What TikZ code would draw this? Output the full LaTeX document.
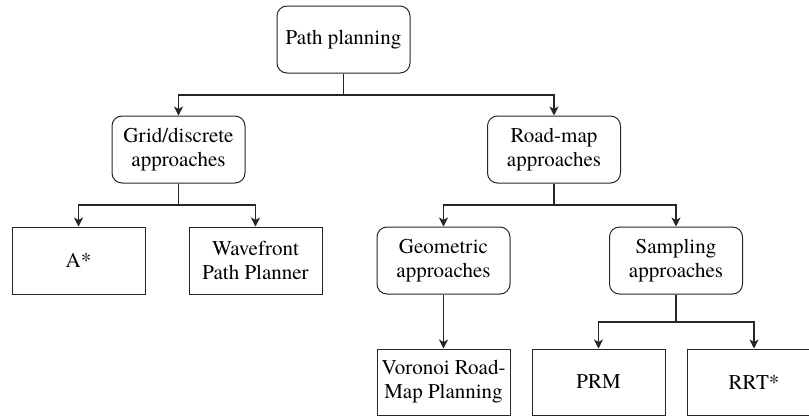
\documentclass[tikz,border=0pt]{standalone}
\usepackage{fontspec}
\setmainfont{TeX Gyre Termes}
\usetikzlibrary{arrows.meta}
\begin{document}
\begin{tikzpicture}[x=1pt,y=-1pt,
  box/.style={draw=black!85,line width=1pt,minimum width=133pt,minimum height=67pt,
    inner sep=0pt,align=center,font=\fontsize{21}{24}\selectfont},
  rbox/.style={box,rounded corners=10pt},
  arr/.style={draw=black!85,line width=1.1pt,-{Stealth[length=9pt,width=9pt,inset=2.5pt]}},
  ln/.style={draw=black!85,line width=1.1pt}]
\useasboundingbox (0,0) rectangle (809,416);
\clip (0,0) rectangle (809,416);
\node[rbox] (pp) at (343.5,39.5) {Path planning};
\node[rbox] (grid) at (178.5,149.5) {Grid/discrete\\approaches};
\node[rbox] (road) at (554,149.5) {Road-map\\approaches};
\node[box] (astar) at (78.5,260.5) {A*};
\node[box] (wave) at (255.5,260.5) {Wavefront\\Path Planner};
\node[rbox] (geo) at (443.5,260.5) {Geometric\\approaches};
\node[rbox] (samp) at (676,260.5) {Sampling\\approaches};
\node[box,minimum height=66pt] (vor) at (443.5,382) {Voronoi Road-\\Map Planning};
\node[box,minimum height=66pt] (prm) at (598.5,382) {PRM};
\node[box,minimum height=66pt] (rrt) at (754,382) {RRT*};
\coordinate (j1) at (343.5,95);
\coordinate (j2) at (178.5,205);
\coordinate (j3) at (554,205);
\coordinate (j4) at (676,322);
\draw[ln] (pp.south) -- (j1);
\draw[arr] (j1) -| (grid.north);
\draw[arr] (j1) -| (road.north);
\draw[ln] (grid.south) -- (j2);
\draw[arr] (j2) -| (astar.north);
\draw[arr] (j2) -| (wave.north);
\draw[ln] (road.south) -- (j3);
\draw[arr] (j3) -| (geo.north);
\draw[arr] (j3) -| (samp.north);
\draw[arr] (geo.south) -- (vor.north);
\draw[ln] (samp.south) -- (j4);
\draw[arr] (j4) -| (prm.north);
\draw[arr] (j4) -| (rrt.north);
\end{tikzpicture}
\end{document}
